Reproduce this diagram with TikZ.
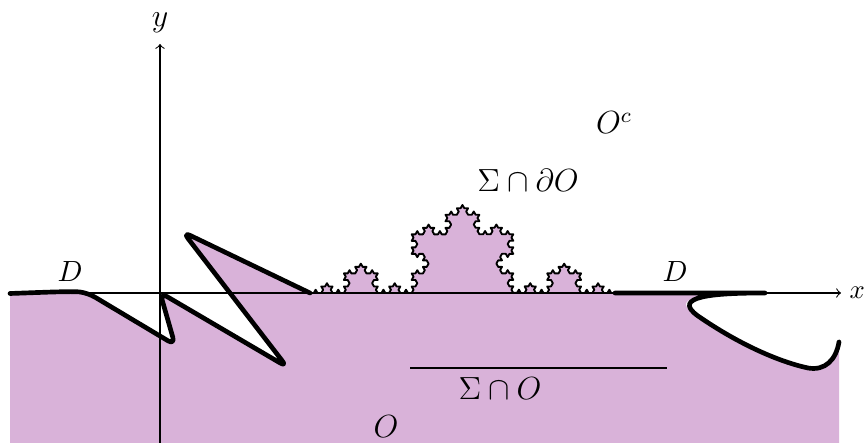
\documentclass[tikz,border=0pt]{standalone}
\usetikzlibrary{decorations.fractals}
\begin{document}
\begin{tikzpicture}[x=0.375pt,y=-0.375pt,
  bnd/.style={line width=1.75pt, line join=round, line cap=round},
  region/.style={fill=violet!30},
  axisline/.style={->, line width=0.4pt},
  kochline/.style={line width=0.7pt, line join=round},
  lbl/.style={inner sep=0pt},
  big/.style={font=\large},
  mid/.style={font=\fontsize{11}{13}\selectfont}]
\useasboundingbox (0,0) rectangle (866,443);
% boundary points
\coordinate (L0) at (10,293.5);
\coordinate (L1) at (88,293);
\coordinate (L2) at (175,345);
\coordinate (L3) at (160,292.5);
\coordinate (L4) at (287,367);
\coordinate (L5) at (183,232);
\coordinate (L6) at (310,293);
\coordinate (R0) at (615,293);
\coordinate (R1) at (765,293);
\coordinate (R2) at (839,342);
\coordinate (FBR) at (839,443);
\coordinate (FBL) at (10,443);
% axes
\coordinate (XS) at (10,293);
\coordinate (XE) at (841,293);
\coordinate (YS) at (160,443);
\coordinate (YE) at (160,44);
% fill
\fill[region] [rounded corners=3pt] (L0) .. controls (40,292.5) and (72,291) .. (L1) -- (L2) -- (L3) -- (L4) -- (L5) -- (L6) -- (R0) -- (R1)
  .. controls (715,293) and (670,296) .. (698,316)
  .. controls (740,345) and (780,362) .. (808,368)
  .. controls (825,371) and (836,360) .. (R2) [sharp corners] -- (FBR) -- (FBL) -- cycle;
\path[region, kochline, draw, decoration=Koch snowflake]
  decorate{decorate{decorate{decorate{(L6) -- (R0)}}}};
% axes
\draw[axisline] (XS) -- (XE) node[right, lbl, xshift=3pt] (xl) {$x$};
\draw[axisline] (YS) -- (YE) node[above, lbl, big, yshift=4pt] (yl) {$y$};
% boundary
\draw[bnd, rounded corners=3pt] (L0) .. controls (40,292.5) and (72,291) .. (L1) -- (L2) -- (L3) -- (L4) -- (L5) -- (L6);
\draw[bnd] (R0) -- (R1)
  .. controls (715,293) and (670,296) .. (698,316)
  .. controls (740,345) and (780,362) .. (808,368)
  .. controls (825,371) and (836,360) .. (R2);
% Sigma cap O segment
\coordinate (S1) at (410,368);
\coordinate (S2) at (667,368);
\draw[thick] (S1) -- (S2);
% labels
\node[mid] (dl) at (70,272) {$D$};
\node[mid] (dr) at (675,272) {$D$};
\node[big] (oc) at (614,123) {$O^c$};
\node[big] (sdo) at (528,180) {$\Sigma\cap\partial O$};
\node[big] (so) at (500,389) {$\Sigma\cap O$};
\node[big] (o) at (386,427) {$O$};
\end{tikzpicture}
\end{document}
